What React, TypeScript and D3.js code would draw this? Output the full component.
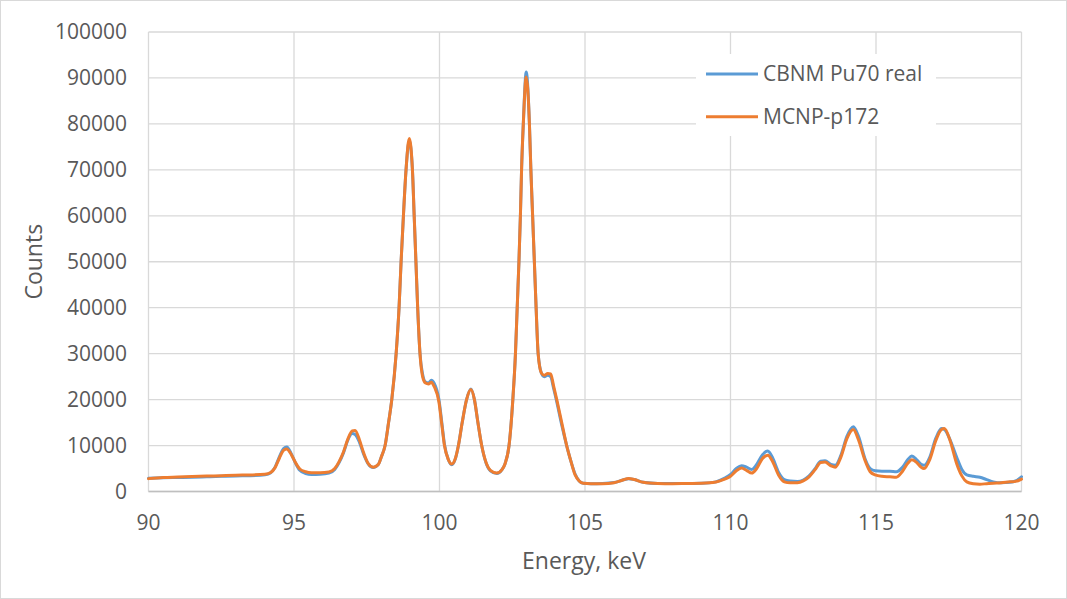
import React from "react";
import * as d3 from "d3";

// energy grid, keV (shared by both series)
const energy = [
  90.0, 90.5, 91.0, 91.5, 92.0, 92.5, 93.0, 93.5, 94.0, 94.2, 94.35, 94.5, 94.65, 94.75, 94.9,
  95.05, 95.2, 95.4, 95.6, 95.9, 96.2, 96.4, 96.55, 96.7, 96.85, 97.0, 97.1, 97.25, 97.4, 97.55,
  97.72, 97.9, 98.0, 98.13, 98.25, 98.36, 98.51, 98.61, 98.68, 98.76, 98.85, 98.96, 99.07, 99.13,
  99.19, 99.25, 99.33, 99.42, 99.52, 99.62, 99.72, 99.82, 99.98, 100.08, 100.17, 100.3, 100.42,
  100.55, 100.65, 100.78, 100.93, 101.08, 101.2, 101.32, 101.45, 101.6, 101.75, 101.97, 102.14,
  102.25, 102.39, 102.52, 102.61, 102.67, 102.73, 102.78, 102.82, 102.88, 102.98, 103.09, 103.14,
  103.2, 103.26, 103.32, 103.39, 103.5, 103.6, 103.72, 103.82, 103.92, 104.03, 104.2, 104.37,
  104.52, 104.66, 104.8, 104.94, 105.2, 105.6, 106.0, 106.3, 106.5, 106.7, 107.0, 107.5, 108.0,
  108.5, 109.0, 109.5, 109.8, 110.0, 110.2, 110.38, 110.55, 110.73, 110.9, 111.1, 111.28, 111.45,
  111.65, 111.85, 112.05, 112.3, 112.5, 112.7, 112.9, 113.1, 113.25, 113.45, 113.6, 113.8, 114.0,
  114.22, 114.4, 114.62, 114.8, 114.97, 115.2, 115.48, 115.7, 115.9, 116.1, 116.23, 116.4, 116.55,
  116.65, 116.85, 117.05, 117.25, 117.35, 117.55, 117.77, 117.95, 118.12, 118.35, 118.57, 118.8,
  119.03, 119.3, 119.6, 119.8, 120.0,
];

const cbnmReal = [
  2900, 3000, 3050, 3100, 3200, 3300, 3400, 3450, 3650, 4100, 5300, 7600, 9400, 9700, 8300,
  6200, 4600, 3900, 3700, 3750, 4000, 4800, 6300, 8400, 11200, 12600, 12400, 10700, 8000, 6000,
  5200, 5900, 7500, 10000, 15000, 20000, 30000, 40000, 50000, 60000, 70000, 76400, 70000, 60000,
  50000, 40000, 30000, 25500, 23800, 23600, 24200, 23500, 20000, 15000, 10300, 7000, 5800,
  7200, 10000, 15000, 20000, 22300, 20000, 15000, 10000, 6200, 4500, 3900, 4700,
  6000, 10000, 20000, 30000, 40000, 50000, 60000, 70000, 80000, 91300, 80000, 70000,
  60000, 50000, 40000, 30000, 25800, 25000, 25300, 25000, 22500, 19500, 14500, 10000,
  6500, 3800, 2300, 1800, 1700, 1750, 1950, 2500, 2800, 2600, 2000, 1750, 1750,
  1750, 1800, 2100, 2900, 3700, 5000, 5600, 5300, 4800, 5900, 8000, 8800, 7300,
  4200, 2600, 2300, 2200, 2500, 3400, 4900, 6600, 6700, 5900, 5700, 8000, 12000,
  14100, 12000, 7200, 5000, 4500, 4400, 4400, 4300, 5200, 7000, 7700, 6900, 5900,
  5700, 7500, 11500, 13700, 13500, 11200, 7500, 4800, 3600, 3300, 3100, 2600,
  2100, 1900, 2000, 2300, 3200,
];

const mcnpP172 = [
  2800, 3050, 3150, 3250, 3350, 3450, 3550, 3600, 3750, 4150, 5200, 7300, 9000, 9250, 8100,
  6300, 4900, 4300, 4100, 4100, 4250, 5000, 6500, 8600, 11400, 13200, 13300, 11200, 8300, 6100,
  5300, 5900, 7500, 10000, 15000, 20000, 30000, 40000, 50000, 60000, 70000, 76800, 70000, 60000,
  50000, 40000, 30000, 25000, 23600, 23400, 23800, 22800, 19500, 14500, 10000, 7000, 6000,
  7300, 10000, 15000, 20000, 22200, 20000, 15000, 10000, 6300, 4600, 4000, 4700,
  6000, 10000, 20000, 30000, 40000, 50000, 60000, 70000, 80000, 90200, 80000, 70000,
  60000, 50000, 40000, 30000, 25800, 25300, 25700, 25600, 23000, 20000, 15000, 10000,
  6500, 3600, 2300, 1800, 1700, 1700, 1900, 2500, 2850, 2600, 2000, 1750, 1700,
  1750, 1800, 2050, 2700, 3300, 4500, 5100, 4600, 4000, 5000, 7200, 7900, 6500,
  3600, 2100, 1900, 1900, 2300, 3200, 4700, 6300, 6400, 5600, 5300, 7600, 11500,
  13500, 11200, 6800, 4300, 3600, 3300, 3200, 3100, 4300, 6200, 6900, 6300, 5300,
  5000, 7000, 11000, 13500, 13700, 11000, 6100, 3400, 2100, 1700, 1600, 1700,
  1800, 1900, 2100, 2200, 2700,
];

const xTicks = [90, 95, 100, 105, 110, 115, 120];
const yTicks = [0, 10000, 20000, 30000, 40000, 50000, 60000, 70000, 80000, 90000, 100000];

const seriesNames = ["CBNM Pu70 real", "MCNP-p172"];
const seriesColors = ["#5B9BD5", "#ED7D31"];

const W = 1067;
const H = 599;
const margin = { left: 148.5, right: W - 1021.5, top: 32, bottom: H - 491.5 };
const FONT = "'Open Sans', 'Liberation Sans', sans-serif";
const TEXT = "#595959";

export default function App() {
  const x = d3.scaleLinear().domain([90, 120]).range([margin.left, W - margin.right]);
  const y = d3.scaleLinear().domain([0, 100000]).range([H - margin.bottom, margin.top]);

  const line = d3
    .line<number>()
    .x((d, i) => x(energy[i]))
    .y((d) => y(d))
    .curve(d3.curveMonotoneX);

  const series = [cbnmReal, mcnpP172];

  return (
    <svg
      width={W}
      height={H}
      style={{ position: "absolute", left: 0, top: 0, background: "#fff" }}
    >
      <rect x={0.5} y={0.5} width={W - 1} height={H - 1} fill="#fff" stroke="#d9d9d9" />

      {/* gridlines */}
      {yTicks.map((t) => (
        <line key={"gy" + t} x1={x(90)} x2={x(120)} y1={y(t)} y2={y(t)} stroke="#d9d9d9" strokeWidth={1.3} />
      ))}
      {xTicks.map((t) => (
        <line key={"gx" + t} x1={x(t)} x2={x(t)} y1={y(0)} y2={y(100000)} stroke="#d9d9d9" strokeWidth={1.3} />
      ))}
      <line x1={x(90)} x2={x(120)} y1={y(0)} y2={y(0)} stroke="#bfbfbf" strokeWidth={1.5} />

      {/* tick labels */}
      {yTicks.map((t) => (
        <text key={"ty" + t} x={127} y={y(t)} dy="0.35em" textAnchor="end"
          fontFamily={FONT} fontSize={21} fill={TEXT}>
          {t}
        </text>
      ))}
      {xTicks.map((t) => (
        <text key={"tx" + t} x={x(t)} y={530} textAnchor="middle"
          fontFamily={FONT} fontSize={21} fill={TEXT}>
          {t}
        </text>
      ))}

      {/* axis titles */}
      <text x={584} y={569} textAnchor="middle" fontFamily={FONT} fontSize={23} fill={TEXT}>
        Energy, keV
      </text>
      <text transform={`translate(42,${(y(0) + y(100000)) / 2}) rotate(-90)`} textAnchor="middle"
        fontFamily={FONT} fontSize={23} fill={TEXT}>
        Counts
      </text>

      {/* data */}
      {series.map((s, i) => (
        <path key={seriesNames[i]} d={line(s) ?? ""} fill="none" stroke={seriesColors[i]}
          strokeWidth={3} strokeLinejoin="round" strokeLinecap="round" />
      ))}

      {/* legend */}
      <rect x={696} y={54} width={240} height={82} fill="#fff" />
      {seriesNames.map((name, i) => (
        <g key={"lg" + name} transform={`translate(706,${74 + i * 42.7})`}>
          <line x1={0} x2={52} y1={0} y2={0} stroke={seriesColors[i]} strokeWidth={3} />
          <text x={57} y={0} dy="0.35em" fontFamily={FONT} fontSize={21} fill={TEXT}>
            {name}
          </text>
        </g>
      ))}
    </svg>
  );
}
